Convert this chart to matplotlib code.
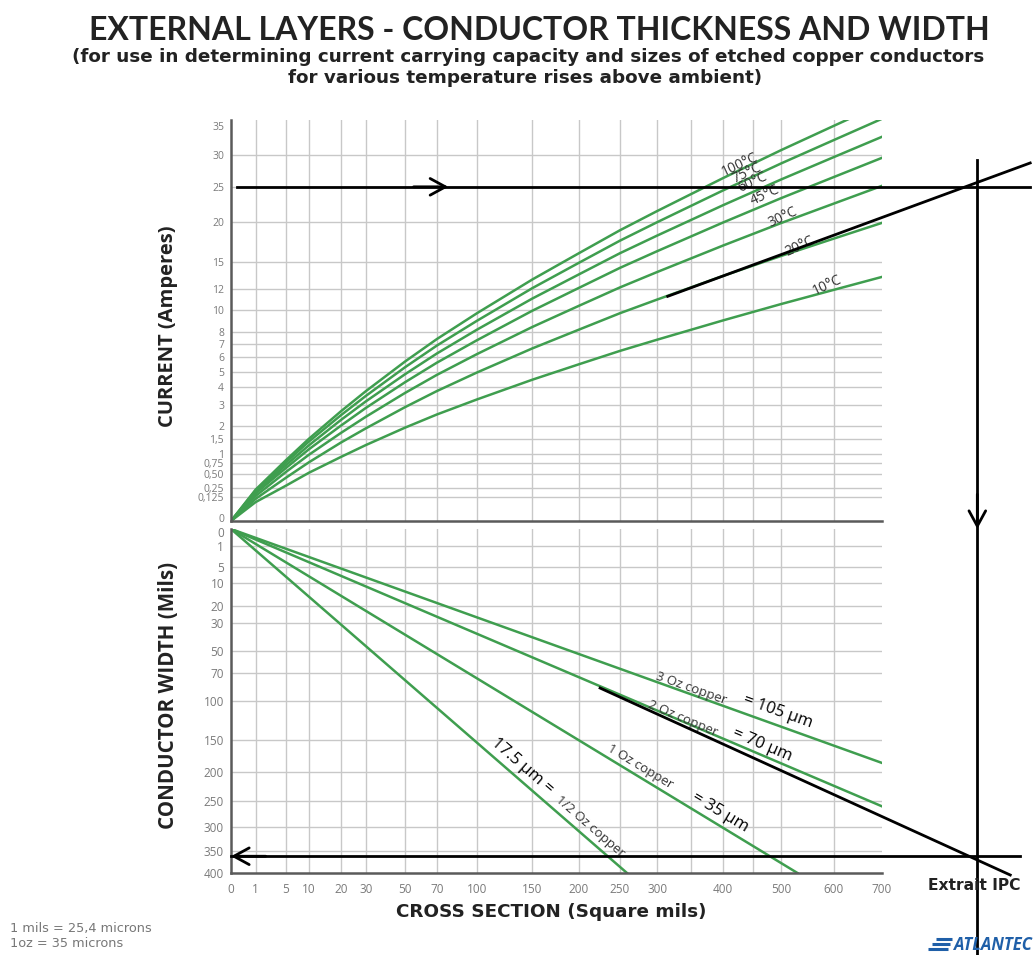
import numpy as np
import matplotlib
matplotlib.use('Agg')
import matplotlib.pyplot as plt
from matplotlib.lines import Line2D
from matplotlib.transforms import ScaledTranslation

plt.rcParams['font.family'] = ['Open Sans', 'DejaVu Sans']

# ---------------- data ----------------
cross_section = [0, 1, 5, 10, 20, 30, 50, 70, 100, 150, 200, 250, 300, 400, 500, 600, 700]
current_100c = [0, 0.22, 0.83, 1.51, 2.70, 3.77, 5.69, 7.41, 9.67, 13.06, 16.06, 18.93, 21.51, 26.33, 30.80, 34.95, 38.97]
current_75c = [0, 0.21, 0.77, 1.41, 2.51, 3.50, 5.29, 6.89, 8.98, 12.14, 14.93, 17.60, 19.99, 24.47, 28.63, 32.48, 36.22]
current_60c = [0, 0.19, 0.70, 1.28, 2.29, 3.20, 4.82, 6.28, 8.20, 11.08, 13.62, 16.06, 18.24, 22.33, 26.12, 29.64, 33.05]
current_45c = [0, 0.17, 0.63, 1.15, 2.04, 2.86, 4.31, 5.61, 7.32, 9.90, 12.17, 14.35, 16.30, 19.95, 23.34, 26.48, 29.53]
current_30c = [0, 0.14, 0.54, 0.98, 1.74, 2.43, 3.67, 4.78, 6.24, 8.43, 10.37, 12.22, 13.88, 16.99, 19.88, 22.55, 25.15]
current_20c = [0, 0.11, 0.42, 0.77, 1.38, 1.92, 2.90, 3.78, 4.94, 6.67, 8.20, 9.67, 10.98, 13.45, 15.73, 17.85, 19.90]
current_10c = [0, 0.08, 0.28, 0.52, 0.92, 1.29, 1.95, 2.54, 3.31, 4.47, 5.50, 6.48, 7.36, 9.01, 10.54, 11.96, 13.34]
temp_labels = ['100°C', '75°C', '60°C', '45°C', '30°C', '20°C', '10°C']

copper_labels = ['1/2 Oz copper', '1 Oz copper', '2 Oz copper', '3 Oz copper']
micron_labels = ['17.5 µm =', '= 35 µm', '= 70 µm', '= 105 µm']
copper_end_section = [259, 530, 700, 700]
copper_end_width = [400, 400, 260, 185]

x_ticks = [0, 1, 5, 10, 20, 30, 50, 70, 100, 150, 200, 250, 300, 400, 500, 600, 700]
x_grid = [1, 5, 10, 20, 30, 50, 70, 100, 150, 200, 250, 300, 350, 400, 450, 500, 600]
current_ticks = [0, 0.125, 0.25, 0.5, 0.75, 1, 1.5, 2, 3, 4, 5, 6, 7, 8, 10, 12, 15, 20, 25, 30, 35]
current_tick_labels = ['0', '0,125', '0,25', '0,50', '0,75', '1', '1,5', '2', '3', '4', '5', '6', '7', '8',
                       '10', '12', '15', '20', '25', '30', '35']
width_ticks = [0, 1, 5, 10, 20, 30, 50, 70, 100, 150, 200, 250, 300, 350, 400]

# worked example (extract IPC)
target_current = 25
ext20_section = [315, 1055]
ext20_current = [11.3, 28.7]
result_section = 920
ext2oz_section = [225, 1003]
ext2oz_width = [85.5, 404.7]
result_width = 362

# ---------------- figure ----------------
W, H = 1036, 955
fig = plt.figure(figsize=(W / 100, H / 100), dpi=100)
fig.patch.set_facecolor('white')

def fx(px):
    return px / W

def fy(py):
    return 1 - py / H

ax_top = fig.add_axes([fx(231), fy(521), fx(882) - fx(231), fy(120) - fy(521)])
ax_bot = fig.add_axes([fx(231), fy(873), fx(882) - fx(231), fy(529) - fy(873)])

fwd = lambda v: np.sqrt(np.maximum(v, 0))
inv = lambda v: np.asarray(v) ** 2

GREEN = '#3f9e4f'
GRID = '#c8c8c8'
SPINE = '#5a5a5a'
TICKC = '#7a7a7a'

for ax in (ax_top, ax_bot):
    ax.set_xscale('function', functions=(fwd, inv))
    ax.set_yscale('function', functions=(fwd, inv))
    ax.set_xlim(0, 700)
    for s in ('top', 'right'):
        ax.spines[s].set_visible(False)
    for s in ('left', 'bottom'):
        ax.spines[s].set_color(SPINE)
        ax.spines[s].set_linewidth(1.8)
    for gx in x_grid:
        ax.axvline(gx, color=GRID, lw=1.0, zorder=0)
    ax.tick_params(length=0, colors=TICKC, labelsize=8, pad=5)

ax_top.set_ylim(0, 36)
ax_bot.set_ylim(400, 0)

for gy in current_ticks[1:-1]:
    ax_top.axhline(gy, color=GRID, lw=1.0, zorder=0)
for gy in width_ticks[1:-1]:
    ax_bot.axhline(gy, color=GRID, lw=1.0, zorder=0)

ax_top.set_xticks(x_ticks)
ax_top.set_xticklabels([])
ax_top.set_yticks(current_ticks)
ax_top.set_yticklabels(current_tick_labels)
ax_top.tick_params(axis='y', labelsize=7.5)
ax_bot.set_xticks(x_ticks)
ax_bot.set_xticklabels([str(v) for v in x_ticks])
ax_bot.set_yticks(width_ticks)
ax_bot.set_yticklabels([str(v) for v in width_ticks])
ax_bot.tick_params(axis='x', pad=7, labelsize=8.5)
ax_bot.tick_params(axis='y', labelsize=8.5)

# nudge the two "0" labels that meet between the panels a little apart
top_zero = ax_top.get_yticklabels()[0]
top_zero.set_transform(top_zero.get_transform() + ScaledTranslation(0, 2 / 72, fig.dpi_scale_trans))
bot_zero = ax_bot.get_yticklabels()[0]
bot_zero.set_transform(bot_zero.get_transform() + ScaledTranslation(0, -2 / 72, fig.dpi_scale_trans))

# temperature curves
curves = [current_100c, current_75c, current_60c, current_45c, current_30c, current_20c, current_10c]
for c in curves:
    ax_top.plot(cross_section, c, color=GREEN, lw=1.8, zorder=2)

temp_label_pos = [(428, 28.4), (440, 27.0), (449, 25.6), (471, 23.8), (502, 20.7), (535, 16.9), (587, 12.4)]
for lab, (lx, ly) in zip(temp_labels, temp_label_pos):
    ax_top.text(lx, ly, lab, rotation=25, ha='center', va='center', fontsize=10,
                color='#333333', zorder=4)

# copper thickness lines
for xe, we in zip(copper_end_section, copper_end_width):
    ax_bot.plot([0, xe], [0, we], color=GREEN, lw=1.8, zorder=2)

small_pos = [(213, 300), (276, 191.5), (337.6, 122), (349.7, 85.5)]
small_rot = [-40.8, -31.0, -23.0, -19.6]
for lab, (lx, ly), r in zip(copper_labels, small_pos, small_rot):
    ax_bot.text(lx, ly, lab, rotation=r, ha='center', va='center', fontsize=9.5,
                color='#333333', zorder=4)

micron_pos = [(139.9, 190), (395, 272), (466, 158), (494.4, 113.2)]
for lab, (lx, ly), r in zip(micron_labels, micron_pos, small_rot):
    ax_bot.text(lx, ly, lab, rotation=r, ha='center', va='center', fontsize=12,
                color='black', zorder=4)

# worked example lines
ax_top.plot([0.06, 1055], [target_current, target_current], color='black', lw=2, clip_on=False, zorder=5)
ax_top.plot(ext20_section, ext20_current, color='black', lw=2, clip_on=False, zorder=5)
ax_bot.plot([0, 1028], [result_width, result_width], color='black', lw=2, clip_on=False, zorder=5)
ax_bot.plot(ext2oz_section, ext2oz_width, color='black', lw=2, clip_on=False, zorder=5)

x_d, y_d = ax_top.transData.transform((result_section, 29.2))
x_f, y_f = fig.transFigure.inverted().transform((x_d, y_d))
fig.add_artist(Line2D([x_f, x_f], [y_f, 0], transform=fig.transFigure, color='black', lw=2))

arrow = dict(arrowstyle='->,head_length=1.1,head_width=0.6', lw=2, color='black',
             shrinkA=0, shrinkB=0, mutation_scale=10)
ax_top.annotate('', xy=(78, target_current), xytext=(-25, 0), textcoords='offset points',
                arrowprops=arrow, annotation_clip=False)
ax_bot.annotate('', xy=(result_section, 0), xytext=(0, 25), textcoords='offset points',
                arrowprops=arrow, annotation_clip=False)
ax_bot.annotate('', xy=(0, result_width), xytext=(25, 0), textcoords='offset points',
                arrowprops=arrow, annotation_clip=False)

# ---------------- texts ----------------
fig.text(fx(539), fy(30), 'EXTERNAL LAYERS - CONDUCTOR THICKNESS AND WIDTH', ha='center', va='center',
         fontsize=23, fontweight='bold', color='#222222', family=['Lato', 'DejaVu Sans'])
fig.text(fx(528), fy(57), '(for use in determining current carrying capacity and sizes of etched copper conductors',
         ha='center', va='center', fontsize=13.2, fontweight='bold', color='#222222', family='DejaVu Sans')
fig.text(fx(525), fy(78), 'for various temperature rises above ambient)', ha='center', va='center',
         fontsize=13.2, fontweight='bold', color='#222222', family='DejaVu Sans')

fig.text(fx(168), fy(326), 'CURRENT (Amperes)', rotation=90, ha='center', va='center',
         fontsize=14.5, fontweight='bold', color='#222222')
fig.text(fx(168), fy(695), 'CONDUCTOR WIDTH (Mils)', rotation=90, ha='center', va='center',
         fontsize=14.8, fontweight='bold', color='#222222')
fig.text(fx(551), fy(912), 'CROSS SECTION (Square mils)', ha='center', va='center',
         fontsize=13.2, fontweight='bold', color='#222222', family='DejaVu Sans')
fig.text(fx(974), fy(885), 'Extrait IPC', ha='center', va='center',
         fontsize=11.2, fontweight='bold', color='#222222', family='DejaVu Sans')

fig.text(fx(10), fy(928), '1 mils = 25,4 microns', ha='left', va='center', fontsize=9.3,
         color='#777777', family='DejaVu Sans')
fig.text(fx(10), fy(943), '1oz = 35 microns', ha='left', va='center', fontsize=9.3,
         color='#777777', family='DejaVu Sans')

# ATLANTEC logo: stripes + italic word
LOGO = '#1f5fa8'
for i, (x0, x1) in enumerate([(936, 952), (932, 950), (928, 948)]):
    yy = 939 + 5 * i
    fig.add_artist(Line2D([fx(x0), fx(x1)], [fy(yy), fy(yy)], transform=fig.transFigure,
                          color=LOGO, lw=2.2, solid_capstyle='butt'))
fig.text(fx(1032), fy(945), 'ATLANTEC', ha='right', va='center', fontsize=12, fontweight='bold',
         style='italic', color=LOGO)

fig.savefig('out.png', dpi=100, facecolor='white')
